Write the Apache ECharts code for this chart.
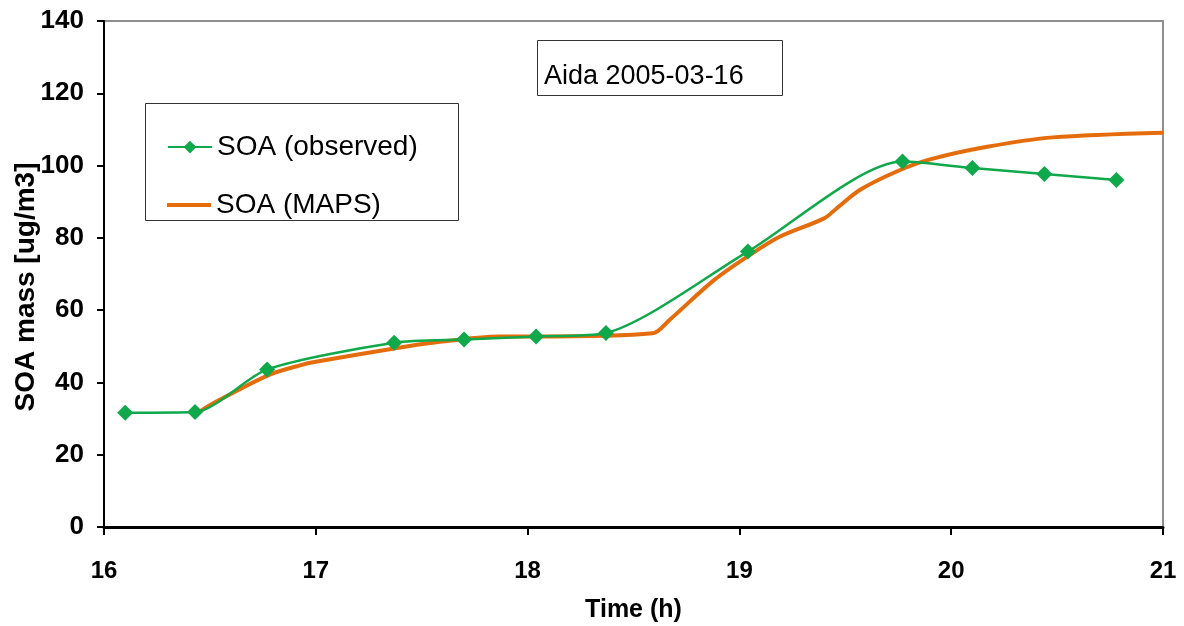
<!DOCTYPE html>
<html>
<head>
  <title>SOA mass - Aida 2005-03-16</title>
  <style>
    body {
      margin: 0;
      background-color: #ffffff;
    }
    #chart {
      width: 1184px;
      height: 626px;
    }
  </style>
</head>
<body>
  <div id="chart"></div>
  <script src="https://cdn.jsdelivr.net/npm/echarts@6/dist/echarts.min.js"></script>
  <script>
    // observed SOA (diamonds)
    var obsTime = [16.10, 16.43, 16.77, 17.37, 17.70, 18.04, 18.37, 19.04, 19.77, 20.10, 20.44, 20.78];
    var obsMass = [31.6, 31.8, 43.6, 51.0, 51.9, 52.7, 53.7, 76.2, 101.1, 99.3, 97.7, 96.0];

    // MAPS model output
    var mapsTime = [16.44, 16.53, 16.78, 16.93, 17.0, 17.37, 17.54, 17.87, 18.04, 18.59, 18.67, 18.88,
      19.05, 19.19, 19.40, 19.46, 19.57, 19.74, 19.90, 20.17, 20.48, 21.0];
    var mapsMass = [31.5, 34.7, 42.1, 44.8, 45.7, 49.4, 50.9, 52.7, 52.7, 53.6, 57.3, 68.3,
      75.3, 80.3, 85.4, 88.2, 93.3, 98.3, 101.7, 105.2, 107.8, 109.1];

    var yTicks = [0, 20, 40, 60, 80, 100, 120, 140];
    var xTicks = [16, 17, 18, 19, 20, 21];

    function pairs(xs, ys) {
      return xs.map(function (x, i) { return [x, ys[i]]; });
    }

    var font = 'Liberation Sans, Arial, sans-serif';
    var legendText = { fontSize: 28, lineHeight: 28, color: '#000', fontFamily: font };

    var chart = echarts.init(document.getElementById('chart'));

    var option = {
      animation: false,
      textStyle: { fontFamily: font },
      grid: {
        left: 104,
        right: 21,
        top: 21,
        bottom: 99,
        outerBoundsMode: 'none',
        containLabel: false,
        show: true,
        borderColor: '#8f8f8f',
        borderWidth: 2
      },
      legend: [
        {
          left: 167,
          top: 123,
          padding: 0,
          itemWidth: 44,
          itemHeight: 16,
          textStyle: legendText,
          data: ['SOA (observed)']
        },
        {
          left: 167,
          top: 181,
          padding: 0,
          itemWidth: 44,
          itemHeight: 16,
          textStyle: legendText,
          data: [{ name: 'SOA (MAPS)', icon: 'path://M0,0h44v4h-44z' }]
        }
      ],
      xAxis: {
        type: 'value',
        min: xTicks[0],
        max: xTicks[xTicks.length - 1],
        interval: 1,
        name: 'Time (h)',
        nameLocation: 'middle',
        nameGap: 62,
        nameMoveOverlap: false,
        nameTextStyle: { fontSize: 25, fontWeight: 'bold', color: '#000' },
        axisLine: { show: true, onZero: false, lineStyle: { color: '#000', width: 3 } },
        axisTick: { show: true, inside: false, length: 8, lineStyle: { color: '#000', width: 2 } },
        axisLabel: { margin: 24, fontSize: 24, fontWeight: 'bold', color: '#000' },
        splitLine: { show: false }
      },
      yAxis: {
        type: 'value',
        min: yTicks[0],
        max: yTicks[yTicks.length - 1],
        interval: 20,
        name: 'SOA mass [ug/m3]',
        nameLocation: 'middle',
        nameGap: 54,
        nameMoveOverlap: false,
        nameTextStyle: { fontSize: 28, fontWeight: 'bold', color: '#000', padding: [0, 26, 0, 0] },
        axisLine: { show: true, onZero: false, lineStyle: { color: '#000', width: 2 } },
        axisTick: { show: true, inside: false, length: 7, lineStyle: { color: '#000', width: 2 } },
        axisLabel: { margin: 20, fontSize: 26, fontWeight: 'bold', color: '#000' },
        splitLine: { show: false }
      },
      series: [
        {
          name: 'SOA (observed)',
          type: 'line',
          smooth: 0.25,
          symbol: 'diamond',
          symbolSize: 16,
          z: 3,
          itemStyle: { color: '#0fa84a' },
          lineStyle: { color: '#0fa84a', width: 2.5 },
          data: pairs(obsTime, obsMass)
        },
        {
          name: 'SOA (MAPS)',
          type: 'line',
          smooth: 0.3,
          symbol: 'none',
          z: 2,
          itemStyle: { color: '#e46c0a' },
          lineStyle: { color: '#e46c0a', width: 4 },
          data: pairs(mapsTime, mapsMass)
        }
      ],
      graphic: [
        {
          type: 'rect',
          shape: { x: 145.5, y: 103.5, width: 313, height: 117 },
          style: { fill: 'rgba(0,0,0,0)', stroke: '#333', lineWidth: 1 },
          z: 1
        },
        {
          type: 'rect',
          shape: { x: 537.5, y: 40.5, width: 245, height: 55 },
          style: { fill: '#fff', stroke: '#333', lineWidth: 1 },
          z: 1
        },
        {
          type: 'text',
          left: 544,
          top: 53,
          style: {
            text: 'Aida 2005-03-16',
            fontSize: 27,
            fill: '#000',
            fontFamily: font
          },
          z: 2
        }
      ]
    };

    chart.setOption(option);
  </script>
</body>
</html>
